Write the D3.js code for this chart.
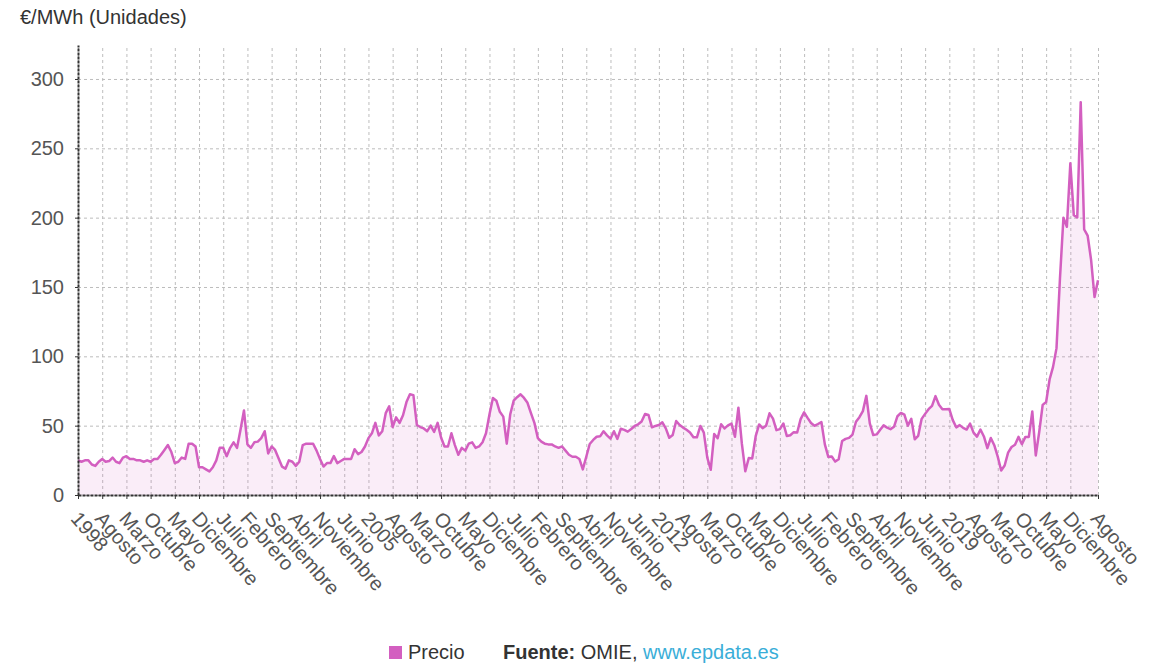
<!DOCTYPE html>
<html>
<head>
<meta charset="utf-8">
<script src="https://cdn.jsdelivr.net/npm/d3@7"></script>
<style>
  body { margin: 0; background: #fff; }
  svg text { font-family: 'Liberation Sans', Arial, sans-serif; }
</style>
</head>
<body>
<svg></svg>
<script>
// precio medio mensual del mercado diario, enero 1998 - agosto 2022
let width   = 1166,
    height  = 664;
let plotLeft   = 78,
    plotRight  = 1098,
    plotTop    = 45,
    plotBottom = 495;

let precio = [
  25, 24, 25, 25, 22, 21, 24, 26, 24, 24.5, 27, 24,            // 1998
  23, 27, 28, 26, 26, 25, 25, 24, 25, 24, 26, 26,              // 1999
  29, 32.5, 36, 31, 23, 24, 27, 26, 37, 37, 35, 20,            // 2000
  20, 18.5, 17, 20, 25, 34, 34, 28, 34, 38, 34, 47,            // 2001
  61, 36.5, 34, 38, 38.5, 41, 46, 30, 35, 32.5, 26.5, 20.5,    // 2002
  19, 25, 24, 21, 24, 36, 37, 37, 37, 32, 26, 20.5,            // 2003
  23, 23, 28, 23, 24.5, 26, 26, 26, 33, 29.5, 31, 35,          // 2004
  41, 44.5, 52, 43, 46, 59, 64, 49, 56, 52, 57.5, 67,          // 2005
  72.6, 72, 50.5, 49, 48, 46, 50, 45.5, 52, 41.5, 35, 35,      // 2006
  44.5, 36, 29, 34, 32, 37, 38, 34, 35, 38, 44.5, 58,          // 2007
  70, 68, 60, 56.5, 37, 58, 68, 70.5, 72.6, 70, 66.5, 59,      // 2008
  52, 41, 38.5, 37, 36.5, 36.5, 35, 34, 35, 32, 29, 27.6,      // 2009
  27.6, 26, 18.5, 27.6, 36.8, 39.7, 42, 42.3, 46, 43, 40.6, 46, // 2010
  40.4, 47.8, 47, 45.7, 47.6, 49.8, 51, 53, 58.4, 57.7, 48.8, 49.8, // 2011
  50.5, 52.4, 48, 41.3, 43.3, 53.4, 50.5, 48.6, 47, 45, 41.6, 41.6, // 2012
  49.8, 45, 27, 18.2, 44, 40.9, 51, 48, 50.2, 51.5, 42, 63,    // 2013
  37, 17.1, 26.7, 26.4, 42.4, 50.9, 48.2, 49.9, 58.9, 55.1, 46.8, 47.5, // 2014
  51.6, 42.6, 43.1, 45.3, 45.1, 54.7, 59.6, 55.6, 51.9, 49.9, 51.2, 52.6, // 2015
  36.5, 27.5, 27.8, 24.1, 25.8, 38.9, 40.5, 41.2, 43.6, 52.8, 56.1, 60.5, // 2016
  71.5, 51.7, 43.2, 43.7, 47.1, 50.2, 48.6, 47.5, 49.2, 56.8, 59.2, 57.9, // 2017
  50, 54.9, 40.2, 42.7, 54.9, 58.5, 61.9, 64.3, 71.3, 65.1, 61.9, 61.8,   // 2018
  62, 54, 48.8, 50.4, 48.4, 47.2, 51.5, 45, 42.1, 47.2, 42.2, 33.8,       // 2019
  41.1, 35.9, 27.7, 17.7, 21.3, 30.6, 34.6, 36.2, 41.9, 36.6, 41.9, 41.9, // 2020
  60.2, 28.5, 45.4, 65, 67.1, 83.3, 92.4, 105.9, 156.1, 199.9, 193.4, 239.2, // 2021
  201.7, 200.2, 283.3, 191.5, 187.1, 169.6, 142.7, 154.9                   // 2022
];

// posicion (mes desde enero 1998) y texto de cada marca del eje x
let tickMonths = [0, 7, 14, 21, 28, 35, 42, 49, 56, 63, 70, 77, 84, 91, 98,
                  105, 112, 119, 126, 133, 140, 147, 154, 161, 168, 175, 182,
                  189, 196, 203, 210, 217, 224, 231, 238, 245, 252, 259, 266,
                  273, 280, 287, 295];
let tickLabels = ['1998', 'Agosto', 'Marzo', 'Octubre', 'Mayo', 'Diciembre',
                  'Julio', 'Febrero', 'Septiembre', 'Abril', 'Noviembre', 'Junio',
                  '2005', 'Agosto', 'Marzo', 'Octubre', 'Mayo', 'Diciembre',
                  'Julio', 'Febrero', 'Septiembre', 'Abril', 'Noviembre', 'Junio',
                  '2012', 'Agosto', 'Marzo', 'Octubre', 'Mayo', 'Diciembre',
                  'Julio', 'Febrero', 'Septiembre', 'Abril', 'Noviembre', 'Junio',
                  '2019', 'Agosto', 'Marzo', 'Octubre', 'Mayo', 'Diciembre', 'Agosto'];
let yTicks = [0, 50, 100, 150, 200, 250, 300];

let lineColor = '#d35fc0';

let svg = d3.select('svg')
    .attr('width', width)
    .attr('height', height);

let xScale = d3.scaleLinear()
                .domain([0, precio.length - 1])
                .range([plotLeft, plotRight]),
    yScale = d3.scaleLinear()
                .domain([0, 324.5])
                .range([plotBottom, plotTop]);

//Grid
let yGrid = svg.append('g')
    .attr('transform', `translate(${plotLeft}, 0)`)
    .call(d3.axisLeft(yScale).tickValues(yTicks).tickSize(plotLeft - plotRight).tickFormat(''));
let xGrid = svg.append('g')
    .attr('transform', `translate(0, ${plotBottom})`)
    .call(d3.axisBottom(xScale).tickValues(tickMonths).tickSize(plotTop - plotBottom).tickFormat(''));
[yGrid, xGrid].forEach(g => {
  g.select('.domain').remove();
  g.selectAll('line')
    .attr('stroke', '#bdbdbd')
    .attr('stroke-dasharray', '3,3');
});

//Area and line
let area = d3.area()
    .x((d, i) => xScale(i))
    .y0(yScale(0))
    .y1(d => yScale(d));
let line = d3.line()
    .x((d, i) => xScale(i))
    .y(d => yScale(d));

svg.append('path')
    .datum(precio)
    .attr('d', area)
    .attr('fill', lineColor)
    .attr('fill-opacity', 0.11);

svg.append('path')
    .datum(precio)
    .attr('d', line)
    .attr('fill', 'none')
    .attr('stroke', lineColor)
    .attr('stroke-width', 2.5)
    .attr('stroke-linejoin', 'round');

//Y Axis
let yAxis = svg.append('g')
    .attr('transform', `translate(${plotLeft}, 0)`)
    .call(d3.axisLeft(yScale).tickValues(yTicks).tickSize(3).tickSizeOuter(0));

//X Axis
let xAxis = svg.append('g')
    .attr('transform', `translate(0, ${plotBottom})`)
    .call(d3.axisBottom(xScale).tickValues(tickMonths)
            .tickFormat((d, i) => tickLabels[i]).tickSize(4).tickSizeOuter(0));

[yAxis, xAxis].forEach(g => {
  g.select('.domain')
    .attr('stroke', '#333')
    .attr('stroke-width', 2)
    .attr('stroke-dasharray', '3,1');
  g.selectAll('line').attr('stroke', '#333');
  g.selectAll('text')
    .attr('fill', '#555')
    .style('font-size', '20px');
});

yAxis.selectAll('text').attr('x', -14);

xAxis.selectAll('text')
    .attr('x', 0)
    .attr('y', 0)
    .attr('dy', '0.71em')
    .attr('transform', 'translate(2, 15) rotate(49)')
    .style('text-anchor', 'start');

//Title
svg.append('text')
    .attr('x', 20)
    .attr('y', 24)
    .attr('fill', '#333')
    .style('font-size', '20px')
    .text('€/MWh (Unidades)');

//Legend and source
svg.append('rect')
    .attr('x', 389)
    .attr('y', 646)
    .attr('width', 13)
    .attr('height', 13)
    .attr('fill', lineColor);

svg.append('text')
    .attr('x', 408)
    .attr('y', 659)
    .attr('fill', '#333')
    .style('font-size', '20px')
    .text('Precio');

let fuente = svg.append('text')
    .attr('x', 503)
    .attr('y', 659)
    .attr('fill', '#333')
    .style('font-size', '20px');
fuente.append('tspan').style('font-weight', 'bold').text('Fuente:');
fuente.append('tspan').text(' OMIE, ');
fuente.append('tspan').attr('fill', '#3aaed8').text('www.epdata.es');
</script>
</body>
</html>
